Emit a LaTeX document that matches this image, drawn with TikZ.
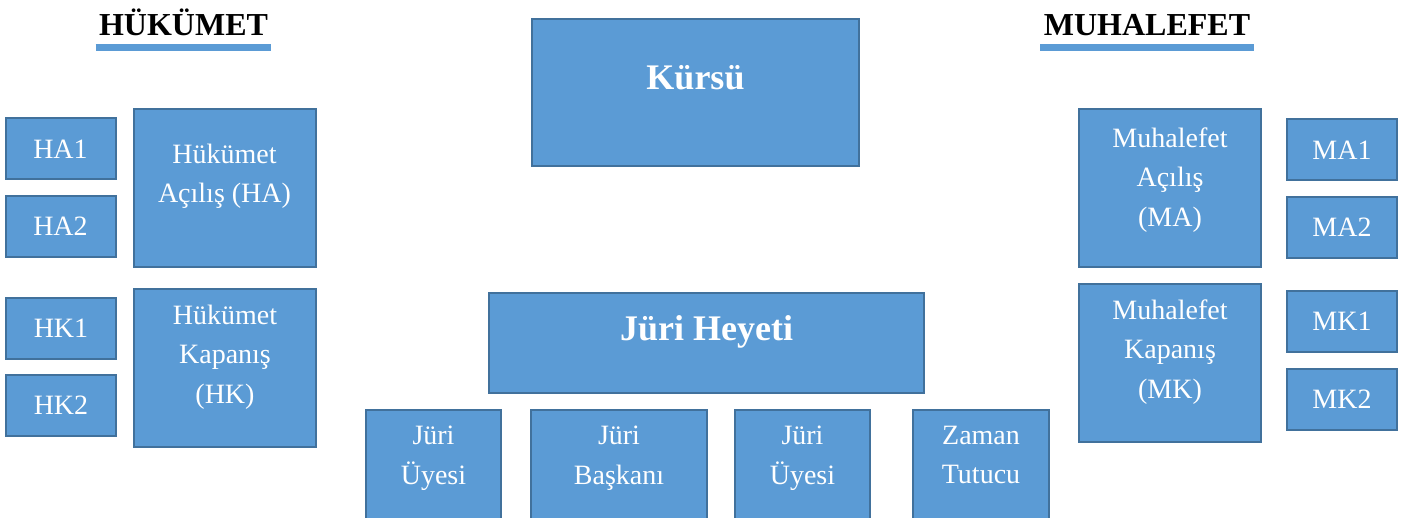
\documentclass[tikz,border=0pt]{standalone}
\usepackage{fontspec}
\setmainfont{Liberation Serif}
\definecolor{boxblue}{HTML}{5B9BD5}
\definecolor{boxline}{HTML}{41719C}

\begin{document}
\begin{tikzpicture}[x=0.5pt, y=-0.5pt,
    panel/.style={rectangle, draw=boxline, fill=boxblue, line width=1pt, text=white, align=center, inner sep=0pt, font={\fontsize{14}{19.75}\selectfont}},
    seat/.style={panel, minimum width=55pt, minimum height=30.5pt},
    team/.style={panel, minimum width=91pt, minimum height=79pt},
    member/.style={panel, minimum height=74.5pt, text depth=29.5pt},
    heading/.style={font={\fontsize{16}{19}\selectfont\bfseries}, inner sep=1.5pt, anchor=base},
    rule/.style={draw=boxblue, line width=3.5pt},
    node distance=38.75pt]
          \useasboundingbox (0,0) rectangle (1413,518);
          % titles
          \node[heading](gov) at (183.5,36) {HÜKÜMET};
          \node[heading](opp) at (1147,36) {MUHALEFET};
          \draw[rule] ([yshift=-5.75pt]gov.base west) -- ([yshift=-5.75pt]gov.base east);
          \draw[rule] ([yshift=-5.75pt]opp.base west) -- ([yshift=-5.75pt]opp.base east);
          % government
          \node[seat](ha1) at (60.5,149)  {HA1};
          \node[seat](ha2) [below of = ha1] {HA2};
          \node[team, text depth=15pt](ha) at (224.5,188.5) {Hükümet\\Açılış (HA)};
          \node[seat](hk1) at (61,328)    {HK1};
          \node[seat](hk2) [below of = hk1] {HK2};
          \node[team, text depth=14.2pt](hk) at (225,368) {Hükümet\\Kapanış\\(HK)};
          % centre
          \node[panel, minimum width=163.5pt, minimum height=73.5pt, text depth=14.9pt,
                font={\fontsize{18}{22}\selectfont\bfseries}](kursu) at (695.5,92.5) {Kürsü};
          \node[panel, minimum width=217.5pt, minimum height=50pt, text depth=15.4pt,
                font={\fontsize{18}{22}\selectfont\bfseries}](jury) at (706.5,343) {Jüri Heyeti};
          \node[member, minimum width=67.5pt](ju1) at (433.5,484.5) {Jüri\\Üyesi};
          \node[member, minimum width=88pt](jb)    at (619,484.5)   {Jüri\\Başkanı};
          \node[member, minimum width=67.5pt](ju2) at (802.5,484.5) {Jüri\\Üyesi};
          \node[member, minimum width=68pt](zt)    at (981,484.5)   {Zaman\\Tutucu};
          % opposition
          \node[team, text depth=11.7pt](ma) at (1170,188.5) {Muhalefet\\Açılış\\(MA)};
          \node[seat](ma1) at (1342,150)  {MA1};
          \node[seat](ma2) [below of = ma1] {MA2};
          \node[team, text depth=14.2pt](mk) at (1170,363) {Muhalefet\\Kapanış\\(MK)};
          \node[seat](mk1) at (1342,321.5) {MK1};
          \node[seat](mk2) [below of = mk1] {MK2};
        \end{tikzpicture}
\end{document}
